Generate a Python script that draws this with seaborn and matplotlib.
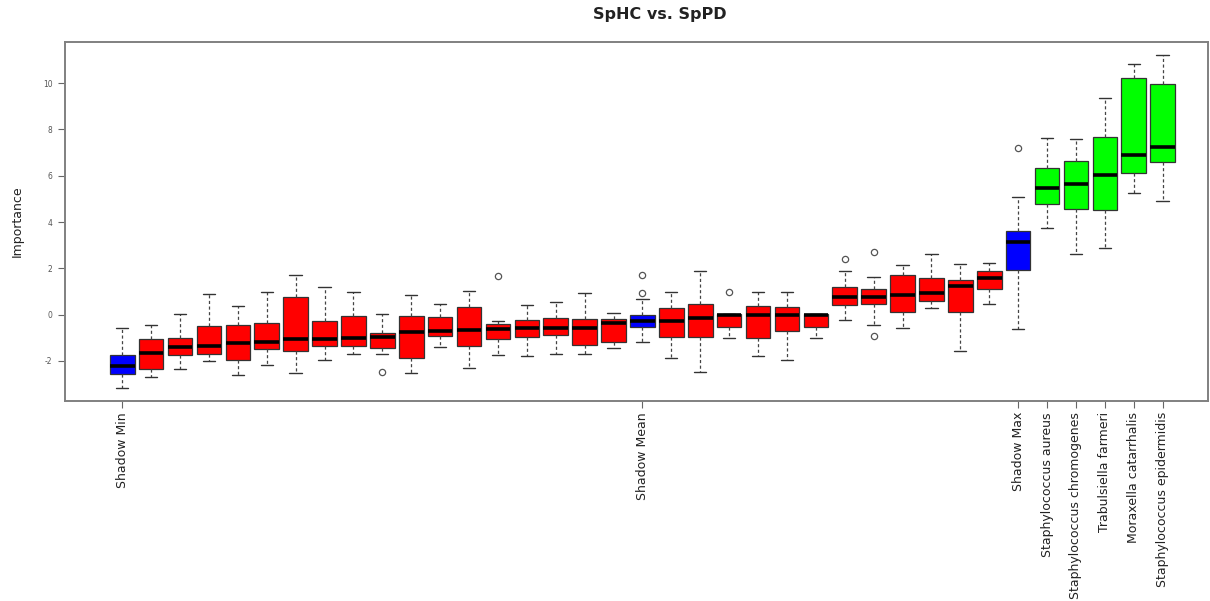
import numpy as np
import pandas as pd
import matplotlib
matplotlib.use("Agg")
import matplotlib.pyplot as plt
import seaborn as sns

# ---------------- data ----------------
status = (["shadow"] + ["rejected"] * 17 + ["shadow"] + ["rejected"] * 12 +
          ["shadow"] + ["confirmed"] * 5)

whis_lo = [-3.15, -2.69, -2.33, -2.01, -2.62, -2.16, -2.52, -1.94, -1.71, -1.71,
           -2.52, -1.38, -2.30, -1.74, -1.77, -1.68, -1.68, -1.45, -1.18, -1.88,
           -2.46, -0.99, -1.80, -1.96, -0.99, -0.22, -0.44, -0.57, 0.28, -1.57,
           0.48, -0.60, 3.75, 2.64, 2.88, 5.24, 4.90]
q1 = [-2.55, -2.35, -1.74, -1.71, -1.97, -1.50, -1.57, -1.35, -1.35, -1.44,
      -1.86, -0.92, -1.35, -1.06, -0.96, -0.89, -1.32, -1.17, -0.52, -0.95,
      -0.98, -0.53, -1.01, -0.69, -0.53, 0.41, 0.45, 0.12, 0.60, 0.12,
      1.10, 1.92, 4.77, 4.57, 4.51, 6.13, 6.58]
median = [-2.22, -1.65, -1.41, -1.35, -1.24, -1.17, -1.05, -1.04, -0.99, -0.95,
          -0.73, -0.69, -0.66, -0.62, -0.56, -0.56, -0.57, -0.35, -0.29, -0.27,
          -0.16, -0.02, 0.00, 0.00, 0.00, 0.75, 0.75, 0.86, 0.92, 1.23,
          1.60, 3.13, 5.49, 5.63, 6.03, 6.88, 7.23]
q3 = [-1.76, -1.05, -1.01, -0.49, -0.43, -0.34, 0.78, -0.27, -0.06, -0.79,
      -0.06, -0.10, 0.35, -0.39, -0.22, -0.14, -0.17, -0.17, -0.03, 0.28,
      0.48, 0.02, 0.39, 0.33, 0.03, 1.18, 1.10, 1.73, 1.60, 1.50,
      1.87, 3.62, 6.34, 6.64, 7.66, 10.22, 9.98]
whis_hi = [-0.59, -0.44, 0.02, 0.91, 0.39, 0.97, 1.71, 1.20, 0.99, 0.02,
           0.86, 0.45, 1.02, -0.29, 0.43, 0.54, 0.92, 0.06, 0.66, 0.99,
           1.89, 0.02, 0.99, 0.99, 0.03, 1.87, 1.64, 2.15, 2.62, 2.19,
           2.25, 5.07, 7.63, 7.58, 9.35, 10.83, 11.20]
outliers_low = {9: [-2.46], 26: [-0.91]}
outliers_high = {13: [1.69], 18: [0.95, 1.73], 21: [0.98], 25: [2.39],
                 26: [2.70], 31: [7.21]}

tick_labels = ["Shadow Min"] + [""] * 17 + ["Shadow Mean"] + [""] * 12 + [
    "Shadow Max", "Staphylococcus aureus", "Staphylococcus chromogenes",
    "Trabulsiella farmeri", "Moraxella catarrhalis", "Staphylococcus epidermidis"]

colors = {"shadow": "#0000FF", "rejected": "#FF0000", "confirmed": "#00FF00"}

# ------------- build samples reproducing each box's statistics -------------
m = 3  # n = 4m+1 points -> q1 at idx m, median at 2m, q3 at 3m
rows = []
for i in range(len(status)):
    lo_out = outliers_low.get(i, [])
    hi_out = outliers_high.get(i, [])
    n = 4 * m + 1
    a = np.empty(n)
    a[:m + 1] = q1[i]
    a[m + 1:2 * m + 1] = median[i]
    a[2 * m + 1:] = q3[i]
    k = 0
    for v in sorted(lo_out):
        a[k] = v
        k += 1
    a[k] = whis_lo[i]
    k = n - 1
    for v in sorted(hi_out, reverse=True):
        a[k] = v
        k -= 1
    a[k] = whis_hi[i]
    for v in a:
        rows.append({"pos": i, "Importance": v, "status": status[i]})
df = pd.DataFrame(rows)

# ---------------- plot ----------------
sns.set_style("white")
fig = plt.figure(figsize=(12.1, 6.01), dpi=100)
ax = fig.add_axes([65 / 1210, 1 - 401 / 601, (1208 - 65) / 1210, (401 - 42) / 601])

sns.boxplot(data=df, x="pos", y="Importance", hue="status", palette=colors,
            order=list(range(len(status))), dodge=False, legend=False,
            width=0.85, saturation=1, linecolor="#333333", linewidth=0.9,
            whis=1.5, ax=ax,
            whiskerprops=dict(linestyle=(0, (2.5, 2)), color="#444444", linewidth=0.9),
            capprops=dict(color="#333333", linewidth=1.0),
            medianprops=dict(color="black", linewidth=2.6),
            flierprops=dict(marker="o", markerfacecolor="none",
                            markeredgecolor="#555555", markersize=4.5,
                            markeredgewidth=0.9))

ax.set_xlim(-1.98, 37.57)
ax.set_ylim(-3.73, 11.78)
ax.set_yticks([-2, 0, 2, 4, 6, 8, 10])
ax.set_yticklabels(["-2", "0", "2", "4", "6", "8", "10"])
ax.tick_params(axis="y", labelsize=5.5, labelcolor="#555555", length=5,
               color="#666666", width=0.8, direction="out", left=True, pad=4)

labeled = [i for i, t in enumerate(tick_labels) if t]
ax.set_xticks(labeled)
ax.set_xticklabels([tick_labels[i] for i in labeled], rotation=90,
                   fontsize=9, color="#222222")
ax.tick_params(axis="x", length=5, color="#666666", width=0.8,
               direction="out", bottom=True, pad=3)
ax.set_xlabel("")
ax.set_ylabel("Importance", fontsize=9, color="#222222", labelpad=14)

for s in ax.spines.values():
    s.set_color("#808080")
    s.set_linewidth(1.4)
    s.set_visible(True)

fig.text(660 / 1210, 1 - 14 / 601, "SpHC vs. SpPD", ha="center", va="center",
         fontsize=11.5, fontweight="bold", color="#222222")

fig.savefig("out.png", dpi=100)
